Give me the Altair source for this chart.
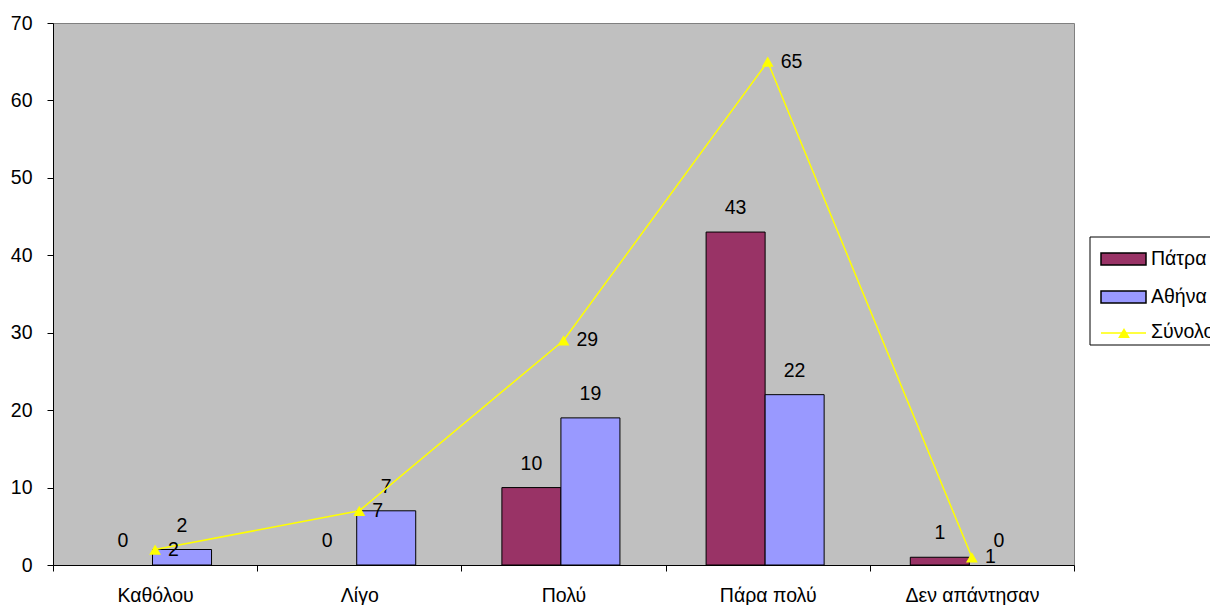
import altair as alt
import pandas as pd

categories = ["Καθόλου", "Λίγο", "Πολύ", "Πάρα πολύ", "Δεν απάντησαν"]
patra = [0, 0, 10, 43, 1]
athina = [2, 7, 19, 22, 0]
total = [2, 7, 29, 65, 1]
series = ["Πάτρα", "Αθήνα", "Σύνολο"]
colors = ["#993366", "#9999FF", "#FFFF00"]
y_ticks = [0, 10, 20, 30, 40, 50, 60, 70]

bars_df = pd.DataFrame({
    "cat": categories * 2,
    "series": [series[0]] * len(categories) + [series[1]] * len(categories),
    "value": patra + athina,
})
tot_df = pd.DataFrame({"cat": categories, "value": total})
one = pd.DataFrame({"k": [0]})

FONT = "Liberation Sans"
FS = 19.5
W, H = 1021, 542

x_enc = alt.X(
    "cat:N", sort=categories,
    scale=alt.Scale(paddingInner=0, paddingOuter=0),
    axis=alt.Axis(title=None, labelAngle=0, tickBand="extent", labelPadding=15,
                  tickSize=6, domainColor="black", tickColor="black"),
)
y_enc = alt.Y(
    "value:Q",
    scale=alt.Scale(domain=[0, 70], nice=False),
    axis=alt.Axis(title=None, values=y_ticks, grid=False, labelPadding=15,
                  tickSize=6, domainColor="black", tickColor="black"),
)
xoff = alt.XOffset("series:N", sort=series[:2],
                   scale=alt.Scale(paddingInner=0, paddingOuter=0.73, align=0.47))
color = alt.Color("series:N", scale=alt.Scale(domain=series[:2], range=colors[:2]), legend=None)

base_bars = alt.Chart(bars_df)
bars = base_bars.mark_bar(stroke="black", strokeWidth=1).encode(
    x=x_enc, y=y_enc, xOffset=xoff, color=color
).transform_filter("datum.value > 0")
bar_labels = base_bars.mark_text(fontSize=FS, font=FONT, baseline="middle", dy=-24, color="black").encode(
    x=alt.X("cat:N", sort=categories), y="value:Q", xOffset=xoff, text="value:Q"
)

base_tot = alt.Chart(tot_df)
line = base_tot.mark_line(color=colors[2], strokeWidth=1.5).encode(
    x=alt.X("cat:N", sort=categories), y="value:Q"
)
pts = base_tot.mark_point(shape="triangle-up", filled=True, size=140, color=colors[2], opacity=1).encode(
    x=alt.X("cat:N", sort=categories), y="value:Q"
)
tot_labels = base_tot.mark_text(fontSize=FS, font=FONT, align="left", baseline="middle", dx=13, color="black").encode(
    x=alt.X("cat:N", sort=categories), y="value:Q", text="value:Q"
)

# manual legend (right side, partly cut by the page edge like the original)
leg_box = alt.Chart(one).mark_rect(fill="white", stroke="black", strokeWidth=1).encode(
    x=alt.value(1037), x2=alt.value(1220), y=alt.value(214), y2=alt.value(322)
)
leg_layers = [leg_box]
for i, (name, col) in enumerate(zip(series[:2], colors[:2])):
    y0 = 230 + i * 38
    leg_layers.append(alt.Chart(one).mark_rect(fill=col, stroke="black", strokeWidth=1.5).encode(
        x=alt.value(1048), x2=alt.value(1093), y=alt.value(y0), y2=alt.value(y0 + 12)))
    leg_layers.append(alt.Chart(one).mark_text(fontSize=FS, font=FONT, align="left", baseline="middle", color="black").encode(
        x=alt.value(1098), y=alt.value(y0 + 6), text=alt.value(name)))
leg_layers.append(alt.Chart(one).mark_rule(color=colors[2], strokeWidth=1.5).encode(
    x=alt.value(1048), x2=alt.value(1093), y=alt.value(310)))
leg_layers.append(alt.Chart(one).mark_point(shape="triangle-up", filled=True, size=140, color=colors[2], opacity=1).encode(
    x=alt.value(1071), y=alt.value(310)))
leg_layers.append(alt.Chart(one).mark_text(fontSize=FS, font=FONT, align="left", baseline="middle", color="black").encode(
    x=alt.value(1098), y=alt.value(309), text=alt.value(series[2])))

chart = alt.layer(bars, bar_labels, line, pts, tot_labels, *leg_layers).properties(
    width=W, height=H,
    autosize=alt.AutoSizeParams(type="none"),
    padding={"left": 45, "top": 15, "right": 136, "bottom": 40},
    background="white",
).configure_view(
    fill="#C0C0C0", stroke="#808080", strokeWidth=1
).configure_axis(
    labelFont=FONT, labelFontSize=FS, labelColor="black"
)

chart.save("out.html", embed_options={"renderer": "svg", "actions": False})
